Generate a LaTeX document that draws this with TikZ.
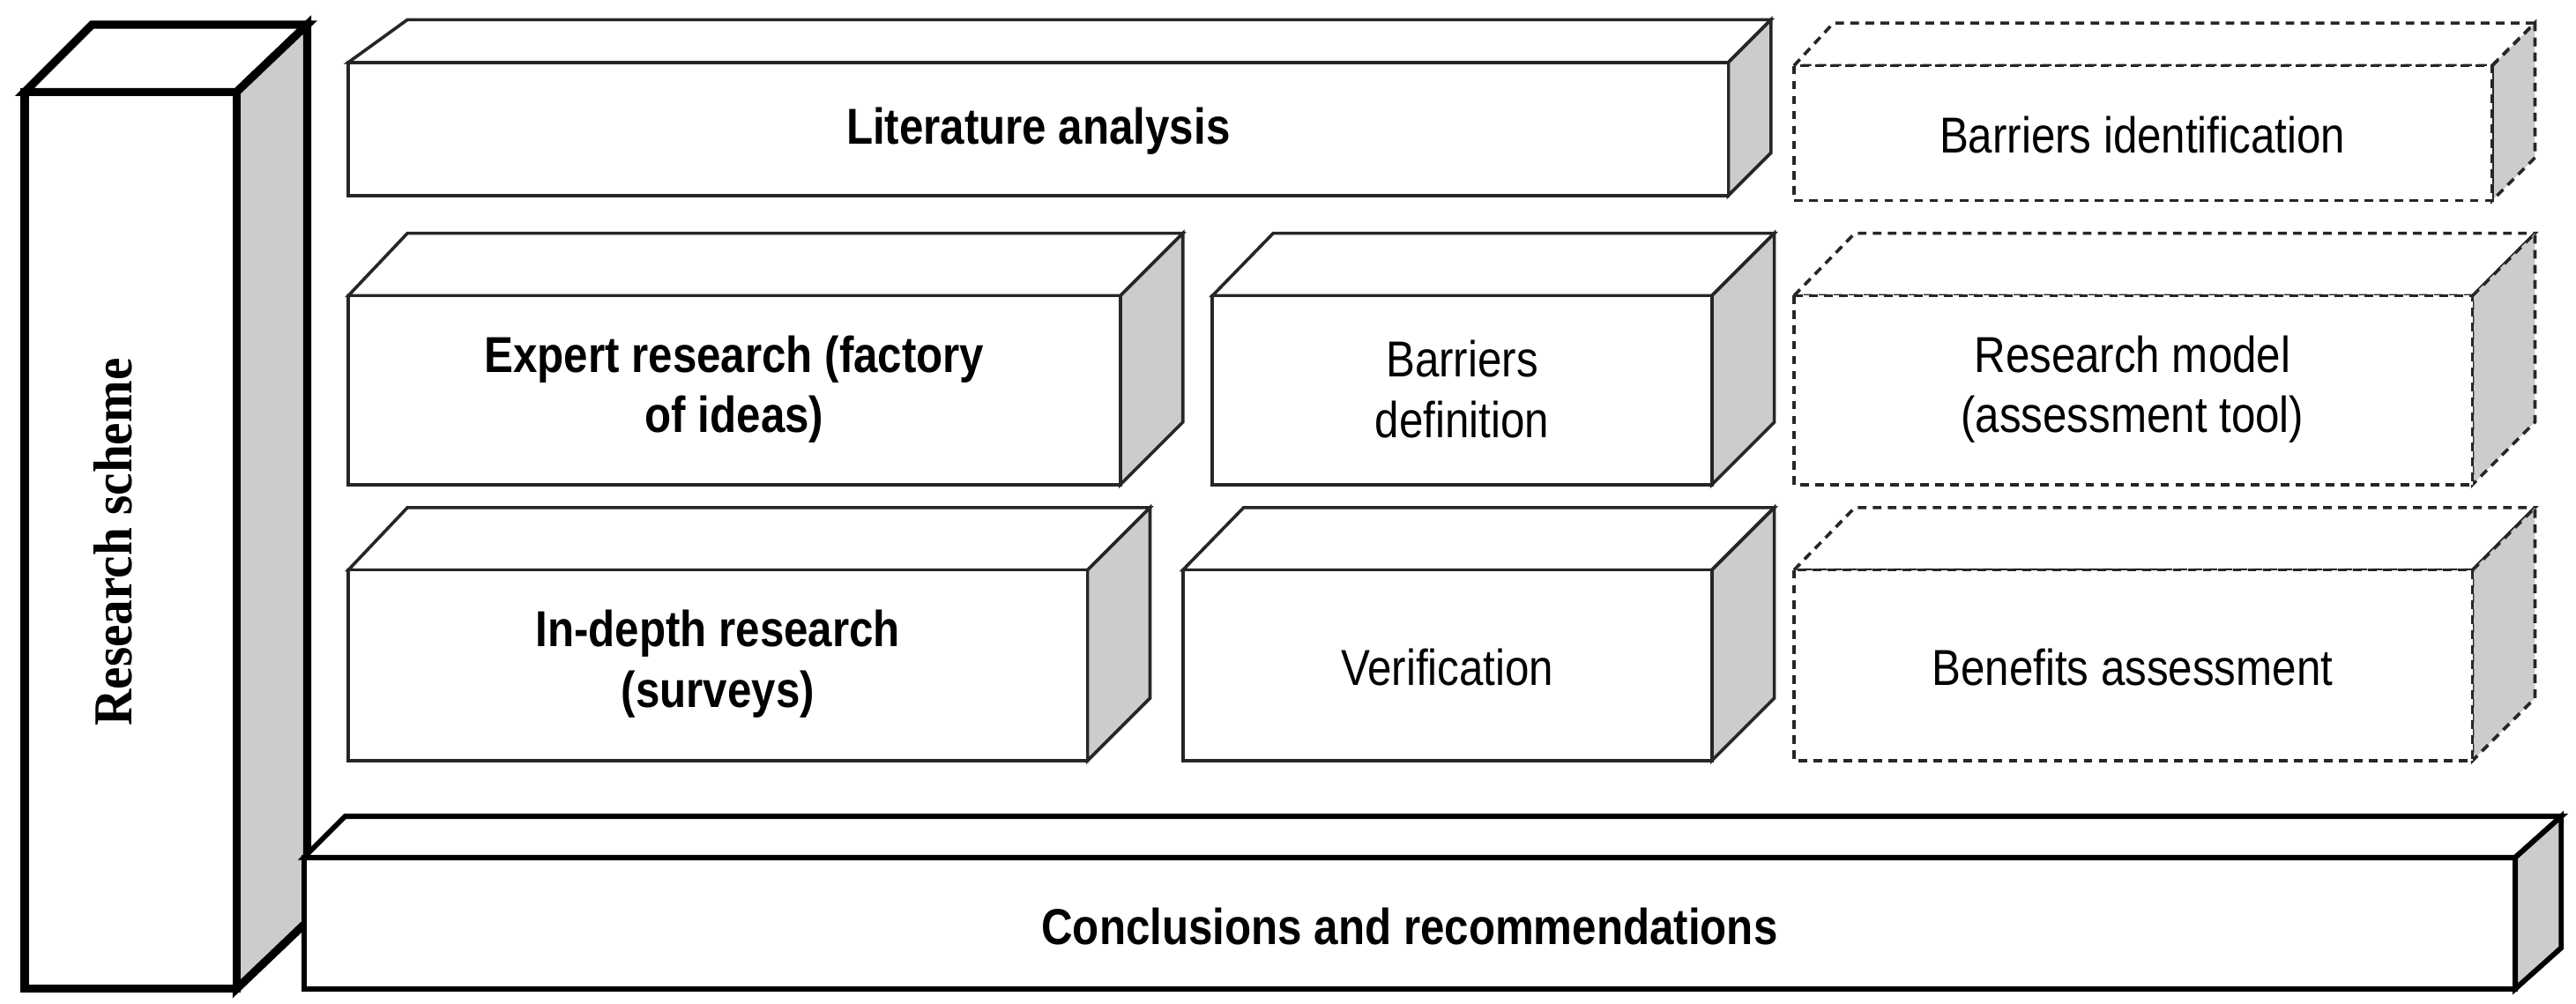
\documentclass[tikz,border=0pt]{standalone}
\usepackage{fontspec}
\setmainfont{Liberation Sans}[FakeStretch=0.86]
\newfontfamily\serifbf{Liberation Serif}[FakeStretch=0.92]
\begin{document}
\begin{tikzpicture}[x=0.02cm,y=-0.02cm,
  face/.style={draw=black!85,line width=1.1pt,line join=miter,fill=white},
  side/.style={face,fill=black!20},
  thickf/.style={draw=black,line width=1.8pt},
  vthick/.style={draw=black,line width=2.8pt},
  dsh/.style={draw=black!85,line width=1.1pt,dash pattern=on 3pt off 2.2pt},
  lbl/.style={align=center,font=\fontsize{17.5}{21}\selectfont},
  blbl/.style={lbl,font=\fontsize{17.5}{21}\selectfont\bfseries}]
\useasboundingbox (0,0) rectangle (1568,611);
% #1 x1, #2 ytop, #3 x2, #4 ybot, #5 dxl, #6 dxr, #7 dy, #8 style
\newcommand\mycub[8]{%
  \path[#8,fill=white] (#1,#2) -- (#1+#5,#2-#7) -- (#3+#6,#2-#7) -- (#3,#2) -- cycle;
  \path[#8,fill=black!20] (#3,#2) -- (#3+#6,#2-#7) -- (#3+#6,#4-#7) -- (#3,#4) -- cycle;
  \path[#8,fill=white] (#1,#2) rectangle (#3,#4);}
% Research scheme column
\mycub{15}{56}{144}{602}{41}{43}{41}{vthick}
\node[rotate=90,font=\serifbf\fontsize{19}{22}\selectfont\bfseries] (rs) at (69,330) {Research scheme};
% Literature
\mycub{212}{38}{1052}{119}{36}{26}{26}{face}
\node[blbl] (lit) at (632,80) {Literature analysis};
% Expert
\mycub{212}{180}{682}{295}{36}{38}{38}{face}
\node[blbl] (exp) at (447,237) {Expert research (factory\\of ideas)};
% Barriers definition
\mycub{738}{180}{1042}{295}{37}{38}{38}{face}
\node[lbl] (bdef) at (890,237) {Barriers\\definition};
% In-depth
\mycub{212}{347}{662}{463}{36}{38}{38}{face}
\node[blbl] (ind) at (437,404) {In-depth research\\(surveys)};
% Verification
\mycub{720}{347}{1042}{463}{37}{38}{38}{face}
\node[lbl] (ver) at (881,406) {Verification};
% Dashed boxes
\mycub{1092}{40}{1517}{122}{24}{26}{26}{dsh}
\node[lbl] (bid) at (1304,82) {Barriers identification};
\mycub{1092}{180}{1505}{295}{37}{38}{38}{dsh}
\node[lbl] (rm) at (1298,237) {Research model\\(assessment tool)};
\mycub{1092}{347}{1505}{463}{37}{38}{38}{dsh}
\node[lbl] (ben) at (1298,406) {Benefits assessment};
% Conclusions
\mycub{185}{522}{1531}{602}{25}{28}{25}{thickf}
\node[blbl] (con) at (858,564) {Conclusions and recommendations};
\end{tikzpicture}
\end{document}
